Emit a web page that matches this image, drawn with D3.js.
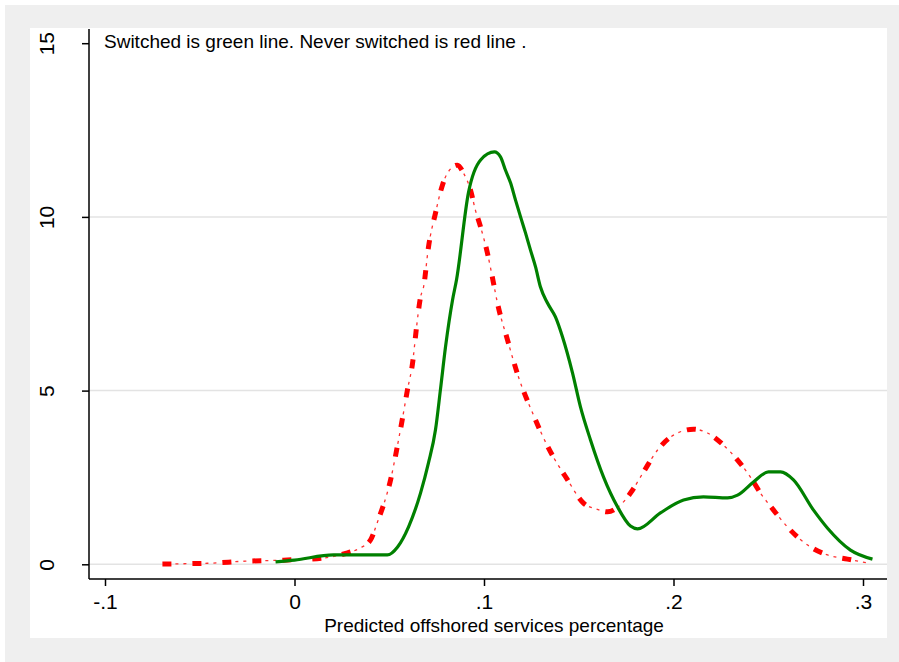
<!DOCTYPE html>
<html>
<head>
<meta charset="utf-8">
<script src="https://cdn.jsdelivr.net/npm/d3@7"></script>
<style>
  body { margin: 0; background: #fff; }
  svg { display: block; font-family: "Liberation Sans", Arial, sans-serif; }
</style>
</head>
<body>
<svg width="899" height="662"></svg>
<script>
// kernel density estimates: x values and densities
var switchedX = [-0.010, 0, 0.0206, 0.049, 0.0544, 0.0602, 0.0665, 0.0707, 0.0744, 0.077, 0.0797, 0.0834, 0.0855, 0.0918, 0.0982, 0.1055, 0.1087, 0.1113, 0.114, 0.1166, 0.1193, 0.1219, 0.1245, 0.1272, 0.1298, 0.1335, 0.1377, 0.1414, 0.1467, 0.1509, 0.1562, 0.1631, 0.1705, 0.1773, 0.181, 0.1931, 0.2053, 0.2158, 0.2285, 0.2338, 0.2422, 0.2501, 0.2565, 0.2633, 0.2739, 0.2813, 0.2934, 0.305];
var switchedY = [0.07, 0.12, 0.27, 0.27, 0.50, 1.08, 2.05, 2.92, 3.87, 5.02, 6.26, 7.61, 8.19, 10.7, 11.64, 11.87, 11.73, 11.35, 10.98, 10.49, 10.0, 9.54, 9.05, 8.56, 7.98, 7.52, 7.12, 6.55, 5.51, 4.53, 3.58, 2.51, 1.65, 1.10, 1.02, 1.48, 1.85, 1.94, 1.91, 1.99, 2.37, 2.66, 2.66, 2.43, 1.56, 1.04, 0.41, 0.15];

var neverX = [-0.0697, -0.0459, -0.0259, -0.0058, 0.0153, 0.028, 0.0348, 0.0401, 0.0438, 0.0507, 0.0549, 0.0575, 0.0596, 0.0623, 0.0644, 0.0665, 0.0681, 0.0707, 0.0744, 0.0781, 0.0807, 0.086, 0.0892, 0.0929, 0.0955, 0.0982, 0.1018, 0.105, 0.1071, 0.1124, 0.1182, 0.1256, 0.134, 0.1441, 0.1525, 0.1594, 0.1652, 0.172, 0.1773, 0.1842, 0.1916, 0.1984, 0.2106, 0.2179, 0.2264, 0.2338, 0.2406, 0.2459, 0.2528, 0.2602, 0.2723, 0.2813, 0.2918, 0.3024];
var neverY = [0.01, 0.03, 0.09, 0.12, 0.18, 0.33, 0.47, 0.70, 1.22, 2.43, 3.58, 4.36, 5.02, 5.79, 6.83, 7.69, 7.98, 9.13, 10.11, 10.92, 11.26, 11.49, 11.26, 10.77, 10.19, 9.71, 8.96, 8.10, 7.52, 6.46, 5.39, 4.36, 3.35, 2.43, 1.76, 1.59, 1.51, 1.71, 2.05, 2.66, 3.29, 3.66, 3.89, 3.78, 3.43, 3.00, 2.51, 2.05, 1.56, 1.07, 0.50, 0.27, 0.15, 0.04];

var xTicks = [-0.1, 0, 0.1, 0.2, 0.3];
var xTickLabels = ["-.1", "0", ".1", ".2", ".3"];
var yTicks = [0, 5, 10, 15];
var yGrid = [0, 5, 10];

var svg = d3.select("svg");

// stata-like frame: gray outer, white plot region
svg.append("rect").attr("x", 0).attr("y", 0).attr("width", 899).attr("height", 662).attr("fill", "#fff");
svg.append("rect").attr("x", 5).attr("y", 5).attr("width", 894).attr("height", 657).attr("fill", "#EFEFEF");
svg.append("rect").attr("x", 30).attr("y", 28).attr("width", 857).attr("height", 610).attr("fill", "#fff");

var xScale = d3.scaleLinear().domain([-0.1, 0.3]).range([105, 863]);
var yScale = d3.scaleLinear().domain([0, 15]).range([564.3, 43.2]);

// gridlines
svg.append("g")
  .selectAll("line")
  .data(yGrid)
  .enter()
  .append("line")
  .attr("x1", 89).attr("x2", 887)
  .attr("y1", function(d) { return yScale(d); })
  .attr("y2", function(d) { return yScale(d); })
  .attr("stroke", "#E3E3E3")
  .attr("stroke-width", 1.5);

// axes
var xAxis = d3.axisBottom(xScale)
  .tickValues(xTicks)
  .tickFormat(function(d, i) { return xTickLabels[i]; })
  .tickSize(7)
  .tickPadding(8)
  .tickSizeOuter(0);

var xGroup = svg.append("g").attr("transform", "translate(0,579)").call(xAxis);
xGroup.select(".domain").attr("d", "M89,0H887").attr("stroke", "#000").attr("stroke-width", 1.5);
xGroup.selectAll(".tick line").attr("stroke", "#000").attr("stroke-width", 1.5);
xGroup.selectAll(".tick text").attr("font-size", 21).attr("font-family", "Liberation Sans, Arial, sans-serif").attr("fill", "#000");

var yAxis = d3.axisLeft(yScale)
  .tickValues(yTicks)
  .tickSize(7)
  .tickSizeOuter(0);

var yGroup = svg.append("g").attr("transform", "translate(89,0)").call(yAxis);
yGroup.select(".domain").attr("d", "M0,29V579").attr("stroke", "#000").attr("stroke-width", 1.5);
yGroup.selectAll(".tick line").attr("stroke", "#000").attr("stroke-width", 1.5);
yGroup.selectAll(".tick text")
  .attr("font-size", 21)
  .attr("font-family", "Liberation Sans, Arial, sans-serif")
  .attr("fill", "#000")
  .attr("x", null).attr("dy", null)
  .attr("text-anchor", "middle")
  .attr("transform", "translate(-35,0) rotate(-90)");

// curves
var line = d3.line()
  .x(function(d) { return xScale(d[0]); })
  .y(function(d) { return yScale(d[1]); })
  .curve(d3.curveMonotoneX);

var neverPts = neverX.map(function(x, i) { return [x, neverY[i]]; });
var switchedPts = switchedX.map(function(x, i) { return [x, switchedY[i]]; });

// red: thick dashes with thin dots between (long dash-dot)
svg.append("path").datum(neverPts).attr("d", line)
  .attr("fill", "none").attr("stroke", "#FF0000")
  .attr("stroke-width", 5).attr("stroke-dasharray", "9 21");
svg.append("path").datum(neverPts).attr("d", line)
  .attr("fill", "none").attr("stroke", "#FF3030")
  .attr("stroke-width", 1.3).attr("stroke-dasharray", "0 13 3 5 3 6");

svg.append("path").datum(switchedPts).attr("d", line)
  .attr("fill", "none").attr("stroke", "#008000")
  .attr("stroke-width", 3.2).attr("stroke-linejoin", "round");

// texts
svg.append("text")
  .attr("x", 104).attr("y", 48)
  .attr("font-size", 19)
  .text("Switched is green line. Never switched is red line .");

svg.append("text")
  .attr("x", 494).attr("y", 632)
  .attr("font-size", 19)
  .attr("text-anchor", "middle")
  .text("Predicted offshored services percentage");
</script>
</body>
</html>
